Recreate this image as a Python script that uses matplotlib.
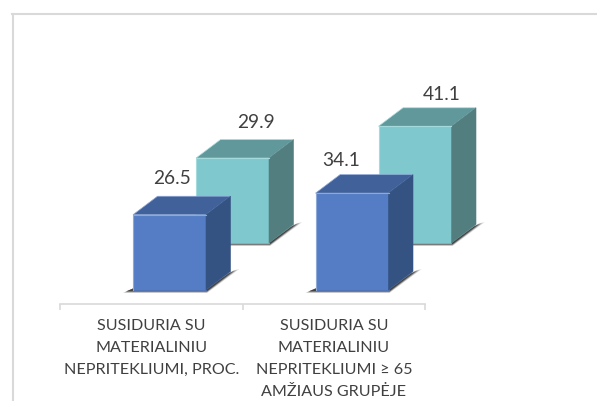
import matplotlib
matplotlib.use('Agg')
import matplotlib.pyplot as plt
from matplotlib.lines import Line2D

categories = [
    'SUSIDURIA SU\nMATERIALINIU\nNEPRITEKLIUMI, PROC.',
    'SUSIDURIA SU\nMATERIALINIU\nNEPRITEKLIUMI ≥ 65\nAMŽIAUS GRUPĖJE',
]
front_values = [26.5, 34.1]
back_values = [29.9, 41.1]

W, H = 597, 401
PX_PER_UNIT_X = 182.5
PX_PER_UNIT_Y = 2.84


def draw_bar(ax, left, value, base, colors, zorder):
    # one box: shadow, front face, top face and side face
    width = 0.4
    dx = 24.5 / PX_PER_UNIT_X
    dy = 18.5 / PX_PER_UNIT_Y
    right = left + width
    top = base + value
    px, py = 1 / PX_PER_UNIT_X, 1 / PX_PER_UNIT_Y

    # soft ground shadow, built from stacked translucent wedges
    for grow, alpha in ((2.0, 0.2), (1.2, 0.35), (0.6, 0.45), (0, 0.6)):
        xs = [left - (6 + grow * 2) * px, right + 1 * px,
              right + dx + (4 + grow * 2.5) * px, right + dx - 2 * px, right, left]
        ys = [base - (1 + grow) * py, base - (1 + grow) * py,
              base + dy + (1.5 + grow * 0.6) * py, base + dy - 2 * py, base, base + 1.5 * py]
        ax.fill(xs, ys, color='#2a2a2a', alpha=alpha, lw=0, zorder=zorder, clip_on=False)

    ax.fill([left, right, right, left], [base, base, top, top],
            color=colors[0], ec=colors[0], lw=0.5, zorder=zorder + 1, clip_on=False)
    # pale rim along the top and left of the front face
    ax.plot([left, left, right], [base, top, top], color=colors[3], lw=0.8,
            zorder=zorder + 2, clip_on=False)
    ax.fill([left, right, right + dx, left + dx], [top, top, top + dy, top + dy],
            color=colors[1], ec=colors[3], lw=0.5, zorder=zorder + 1, clip_on=False)
    ax.fill([right, right + dx, right + dx, right],
            [base, base + dy, top + dy, top],
            color=colors[2], ec=colors[2], lw=0.4, zorder=zorder + 1, clip_on=False)


fig = plt.figure(figsize=(W / 100, H / 100), dpi=100)
fig.patch.set_facecolor('white')

# outer frame, only the left and top edges are visible
fig.add_artist(Line2D([12.5 / W, 12.5 / W], [0, 1 - 14 / H], color='#d9d9d9', lw=1.5))
fig.add_artist(Line2D([12 / W, 1], [1 - 14 / H, 1 - 14 / H], color='#d9d9d9', lw=1.5))

ax = fig.add_axes([60 / W, 1 - 303.5 / H, 365 / W, 263.5 / H])
ax.set_xlim(-0.5, 1.5)
ax.set_ylim(-13.5 / PX_PER_UNIT_Y, 250 / PX_PER_UNIT_Y)
ax.patch.set_alpha(0)
for name in ('top', 'left', 'right'):
    ax.spines[name].set_visible(False)
ax.spines['bottom'].set_color('#d9d9d9')
ax.spines['bottom'].set_linewidth(1.2)
ax.set_yticks([])
ax.set_xticks([-0.5, 0.5, 1.5])
ax.set_xticklabels([])
ax.tick_params(axis='x', length=4, width=1.2, color='#d9d9d9', direction='out')

front_colors = ['#547dc6', '#41619a', '#345282', '#8ea8d8']
back_colors = ['#7fc9ce', '#60989c', '#527e80', '#a5dadd']
back_dx = 63 / PX_PER_UNIT_X
back_dy = 47 / PX_PER_UNIT_Y

for i in range(len(categories)):
    draw_bar(ax, i - 0.1 + back_dx, back_values[i], back_dy, back_colors, 2)
for i in range(len(categories)):
    draw_bar(ax, i - 0.1, front_values[i], 0, front_colors, 5)

# value labels, nudged per bar in pixels from the front-left top corner
front_offsets = [(39.5, 36), (26, 33)]
back_offsets = [(60, 36), (63, 32)]
for i in range(len(categories)):
    ax.annotate(f'{front_values[i]}', (i - 0.1, front_values[i]),
                xytext=(front_offsets[i][0] * 0.72, front_offsets[i][1] * 0.72),
                textcoords='offset points', ha='center', va='center',
                fontsize=13.8, family='Lato', color='#404040', zorder=9,
                annotation_clip=False)
    ax.annotate(f'{back_values[i]}', (i - 0.1 + back_dx, back_values[i] + back_dy),
                xytext=(back_offsets[i][0] * 0.72, back_offsets[i][1] * 0.72),
                textcoords='offset points', ha='center', va='center',
                fontsize=13.8, family='Lato', color='#404040', zorder=9,
                annotation_clip=False)

for i, text in enumerate(categories):
    ax.annotate(text, (i, 0), xycoords=('data', 'axes fraction'),
                xytext=(0, -11.5), textcoords='offset points', ha='center', va='top',
                fontsize=11.6, family='Lato', color='#404040', linespacing=1.7,
                annotation_clip=False)

fig.savefig('out.png', dpi=100)
